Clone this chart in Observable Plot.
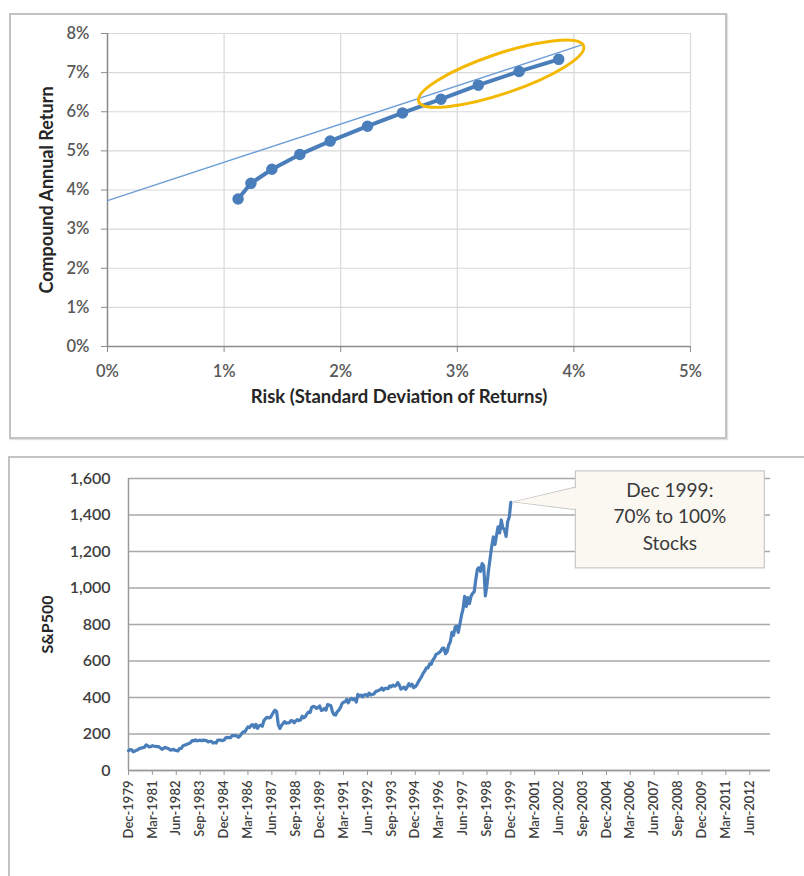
<!DOCTYPE html>
<html>
<head>
<meta charset="utf-8">
<script src="https://cdn.jsdelivr.net/npm/d3@7"></script>
<script src="https://cdn.jsdelivr.net/npm/@observablehq/plot@0.6"></script>
<style>
  html, body { margin: 0; padding: 0; background: #ffffff; }
  body { width: 804px; height: 876px; position: relative; overflow: hidden; font-family: Lato, "Open Sans", sans-serif; }
  #box1 { position: absolute; left: 9px; top: 13px; width: 714px; height: 422px; border: 2px solid #c3c3c3; box-shadow: 1px 1px 1px #e0e0e0; }
  #box2 { position: absolute; left: 8px; top: 456px; width: 830px; height: 450px; border: 2px solid #c3c3c3; }
  #c1 { position: absolute; left: 0; top: 0; }
  #c2 { position: absolute; left: 0; top: 445px; }
</style>
</head>
<body>
<div id="box1"></div>
<div id="box2"></div>
<div id="c1"></div>
<div id="c2"></div>
<script>
// ---------- Top chart data: risk / return frontier (0% .. 100% stocks) ----------
const riskPct   = [1.12, 1.23, 1.41, 1.65, 1.91, 2.23, 2.53, 2.86, 3.18, 3.53, 3.87];
const returnPct = [3.77, 4.17, 4.53, 4.91, 5.25, 5.63, 5.97, 6.32, 6.68, 7.03, 7.34];
// tangent (capital market) line end points
const tangentRisk   = [0, 4.08];
const tangentReturn = [3.73, 7.72];
// highlighted region (70% .. 100% stocks) centre
const highlightRisk = 3.38;
const highlightReturn = 6.96;
const topXTicks = [0, 1, 2, 3, 4, 5];
const topYTicks = [0, 1, 2, 3, 4, 5, 6, 7, 8];
const topXTitle = "Risk (Standard Deviation of Returns)";
const topYTitle = "Compound Annual Return";

// ---------- Bottom chart data: S&P 500 monthly close, Dec 1979 .. Dec 1999 ----------
const sp500Start = "Dec-1979";
const sp500 = [
  107.94,
  114.16,113.66,102.09,106.29,111.24,114.24,121.67,122.38,125.46,127.47,140.52,135.76,
  129.55,131.27,136.00,132.81,132.59,131.21,130.92,122.79,116.18,121.89,126.35,122.55,
  120.40,113.11,111.96,116.44,111.88,109.61,107.09,119.51,120.42,133.71,138.54,140.64,
  145.30,148.06,152.96,164.42,162.39,168.11,162.56,164.40,166.07,163.55,166.40,164.93,
  163.41,157.06,159.18,160.05,150.55,153.18,150.66,166.68,166.10,166.09,163.58,167.24,
  179.63,181.18,180.66,179.83,189.55,191.85,190.92,188.63,182.08,189.82,202.17,211.28,
  211.78,226.92,238.90,235.52,247.35,250.84,236.12,252.93,231.32,243.98,249.22,242.17,
  274.08,284.20,291.70,288.36,290.10,304.00,318.66,329.80,321.83,251.79,230.30,247.08,
  257.07,267.82,258.89,261.33,262.16,273.50,272.02,261.52,271.91,278.97,273.70,277.72,
  297.47,288.86,294.87,309.64,320.52,317.98,346.08,351.45,349.15,340.36,345.99,353.40,
  329.08,331.89,339.94,330.80,361.23,358.02,356.15,322.56,306.05,304.00,322.22,330.22,
  343.93,367.07,375.22,375.35,389.83,371.16,387.81,395.43,387.86,392.46,375.22,417.09,
  408.79,412.70,403.69,414.95,415.35,408.14,424.21,414.03,417.80,418.68,431.35,435.71,
  438.78,443.38,451.67,440.19,450.19,450.53,448.13,463.56,458.93,467.83,461.79,466.45,
  481.61,467.14,445.77,450.91,456.50,444.27,458.26,475.49,462.69,472.35,453.69,459.27,
  470.42,487.39,500.71,514.71,533.40,544.75,562.06,561.88,584.41,581.50,605.37,615.93,
  636.02,640.43,645.50,654.17,669.12,670.63,639.95,651.99,687.31,705.27,757.02,740.74,
  786.16,790.82,757.12,801.34,848.28,885.14,954.29,899.47,947.28,914.62,955.40,970.43,
  980.28,1049.34,1101.75,1111.75,1090.82,1133.84,1120.67,957.28,1017.01,1098.67,1163.63,1229.23,
  1279.64,1238.33,1286.37,1335.18,1301.84,1372.71,1328.72,1320.41,1282.71,1362.93,1388.91,1469.25
];
const bottomXDomain = ["Dec-1979", "Jul-2013"];
const bottomXTickLabels = [
  "Dec-1979","Mar-1981","Jun-1982","Sep-1983","Dec-1984","Mar-1986","Jun-1987","Sep-1988",
  "Dec-1989","Mar-1991","Jun-1992","Sep-1993","Dec-1994","Mar-1996","Jun-1997","Sep-1998",
  "Dec-1999","Mar-2001","Jun-2002","Sep-2003","Dec-2004","Mar-2006","Jun-2007","Sep-2008",
  "Dec-2009","Mar-2011","Jun-2012"
];
const bottomYTicks = [0, 200, 400, 600, 800, 1000, 1200, 1400, 1600];
const bottomYTitle = "S&P500";
const calloutLines = ["Dec 1999:", "70% to 100%", "Stocks"];

// ---------- helpers ----------
const parseMonth = d3.utcParse("%b-%Y");
const fmtMonth = d3.utcFormat("%b-%Y");
const frontier = riskPct.map((r, i) => ({risk: r, ret: returnPct[i]}));
const tangent = tangentRisk.map((r, i) => ({risk: r, ret: tangentReturn[i]}));
const start = parseMonth(sp500Start);
const spData = sp500.map((v, i) => ({date: d3.utcMonth.offset(start, i), value: v}));
const FONT = "Lato, 'Open Sans', sans-serif";

// ---------- Top chart ----------
function highlightEllipse(index, scales) {
  const cx = scales.x(highlightRisk), cy = scales.y(highlightReturn);
  const e = document.createElementNS("http://www.w3.org/2000/svg", "ellipse");
  e.setAttribute("cx", 0); e.setAttribute("cy", 0);
  e.setAttribute("rx", 87); e.setAttribute("ry", 20);
  e.setAttribute("transform", `translate(${cx},${cy}) rotate(-18.6)`);
  e.setAttribute("fill", "none");
  e.setAttribute("stroke", "#f4b800");
  e.setAttribute("stroke-width", 3);
  return e;
}

const chartTop = Plot.plot({
  width: 804, height: 445,
  marginLeft: 107, marginRight: 114, marginTop: 33, marginBottom: 99,
  style: {fontFamily: FONT, fontSize: "16px", color: "#595959", background: "transparent", overflow: "visible"},
  x: {domain: [0, 5]},
  y: {domain: [0, 8]},
  marks: [
    Plot.gridX(topXTicks, {stroke: "#d9d9d9", strokeOpacity: 1, strokeWidth: 1.2}),
    Plot.gridY(topYTicks, {stroke: "#d9d9d9", strokeOpacity: 1, strokeWidth: 1.2}),
    Plot.ruleX([0], {stroke: "#8c8c8c", strokeWidth: 1.5}),
    Plot.ruleY([0], {stroke: "#8c8c8c", strokeWidth: 1.5}),
    Plot.axisX(topXTicks, {tickSize: 6, tickPadding: 13, stroke: "#8c8c8c", fill: "#595959", fontSize: 16.5, fontWeight: 600, tickFormat: d => d + "%", label: null}),
    Plot.axisY(topYTicks, {tickSize: 6, tickPadding: 12, stroke: "#8c8c8c", fill: "#595959", fontSize: 16.5, fontWeight: 600, tickFormat: d => d + "%", label: null}),
    Plot.line(tangent, {x: "risk", y: "ret", stroke: "#6d9dd6", strokeWidth: 1.4}),
    Plot.line(frontier, {x: "risk", y: "ret", stroke: "#4a7ebb", strokeWidth: 4}),
    Plot.dot(frontier, {x: "risk", y: "ret", r: 5, fill: "#4a7ebb", stroke: "#4a7ebb"}),
    highlightEllipse,
    Plot.text([topXTitle], {frameAnchor: "bottom", text: d => d, dy: 56, textAnchor: "middle", fontWeight: "bold", fontSize: 18.5, fill: "#262626"}),
    Plot.text([topYTitle], {frameAnchor: "left", text: d => d, dx: -60, rotate: -90, textAnchor: "middle", fontWeight: "bold", fontSize: 18, fill: "#262626"})
  ]
});
document.getElementById("c1").appendChild(chartTop);

// ---------- Bottom chart ----------
const last = spData[spData.length - 1];
function callout(index, scales) {
  const ax = scales.x(last.date), ay = scales.y(last.value);
  const ns = "http://www.w3.org/2000/svg";
  const g = document.createElementNS(ns, "g");
  const bx = ax + 65, by = ay - 31, bw = 189, bh = 97;
  const poly = document.createElementNS(ns, "polygon");
  poly.setAttribute("points", `${ax + 3},${ay} ${bx + 1},${ay - 15} ${bx + 1},${ay + 8}`);
  poly.setAttribute("fill", "#fbf8f2");
  poly.setAttribute("stroke", "#c8c8c8");
  poly.setAttribute("stroke-width", 1);
  const rect = document.createElementNS(ns, "rect");
  rect.setAttribute("x", bx); rect.setAttribute("y", by);
  rect.setAttribute("width", bw); rect.setAttribute("height", bh);
  rect.setAttribute("fill", "#fbf8f2");
  rect.setAttribute("stroke", "#c8c8c8");
  rect.setAttribute("stroke-width", 1.2);
  const cover = document.createElementNS(ns, "polygon");
  cover.setAttribute("points", `${ax + 4},${ay} ${bx + 2},${ay - 14} ${bx + 2},${ay + 7}`);
  cover.setAttribute("fill", "#fbf8f2");
  g.appendChild(poly); g.appendChild(rect); g.appendChild(cover);
  calloutLines.forEach((line, i) => {
    const t = document.createElementNS(ns, "text");
    t.setAttribute("x", bx + bw / 2);
    t.setAttribute("y", by + 26 + i * 26.5);
    t.setAttribute("text-anchor", "middle");
    t.setAttribute("font-size", 19);
    t.setAttribute("font-family", FONT);
    t.setAttribute("fill", "#3a3a3a");
    t.textContent = line;
    g.appendChild(t);
  });
  return g;
}

const xTickDates = bottomXTickLabels.map(parseMonth);
const chartBottom = Plot.plot({
  width: 804, height: 431,
  marginLeft: 128, marginRight: 34, marginTop: 33, marginBottom: 106,
  style: {fontFamily: FONT, fontSize: "16px", color: "#404040", background: "transparent", overflow: "visible"},
  x: {type: "utc", domain: bottomXDomain.map(parseMonth)},
  y: {domain: [0, 1600]},
  marks: [
    Plot.gridY(bottomYTicks, {stroke: "#a9a9a9", strokeOpacity: 1, strokeWidth: 1.5}),
    Plot.ruleX([parseMonth(bottomXDomain[0])], {stroke: "#9a9a9a", strokeWidth: 1.5}),
    Plot.ruleY([0], {stroke: "#9a9a9a", strokeWidth: 1.5}),
    Plot.axisY(bottomYTicks, {tickSize: 0, tickPadding: 18, fill: "#404040", fontSize: 16, fontWeight: 600, tickFormat: d3.format(","), label: null}),
    Plot.axisX(xTickDates, {tickSize: 5, tickPadding: 5, tickRotate: -90, stroke: "#9a9a9a", fill: "#404040", fontSize: 13, fontWeight: 600, tickFormat: fmtMonth, label: null}),
    Plot.line(spData, {x: "date", y: "value", stroke: "#4a7ebb", strokeWidth: 3.2, strokeLinejoin: "round"}),
    callout,
    Plot.text([bottomYTitle], {frameAnchor: "left", text: d => d, dx: -81, rotate: -90, textAnchor: "middle", fontWeight: "bold", fontSize: 16, fill: "#262626"})
  ]
});
document.getElementById("c2").appendChild(chartBottom);
</script>
</body>
</html>
